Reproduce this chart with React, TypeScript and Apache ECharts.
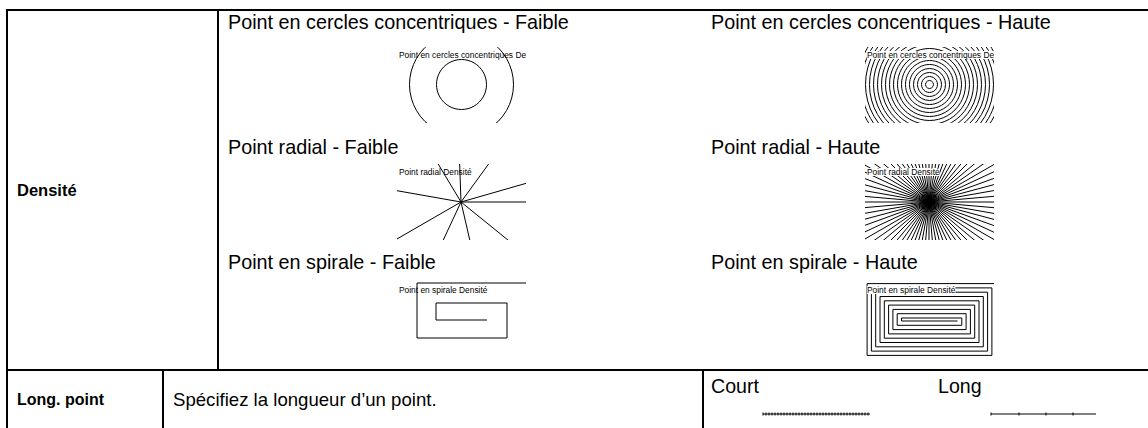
import React, { useEffect, useRef } from "react";
import * as echarts from "echarts";

// ---- texts ----
const rowLabels = ["Densité", "Long. point"];
const headingsLow = [
  "Point en cercles concentriques - Faible",
  "Point radial - Faible",
  "Point en spirale - Faible",
];
const headingsHigh = [
  "Point en cercles concentriques - Haute",
  "Point radial - Haute",
  "Point en spirale - Haute",
];
const panelCaptions = [
  "Point en cercles concentriques Densité",
  "Point radial Densité",
  "Point en spirale Densité",
];
const descText = "Spécifiez la longueur d’un point.";
const lengthLabels = ["Court", "Long"];

// ---- pattern values (pixels inside each sample) ----
const circleRadiiLow = [25, 52];
const circleRadiiHigh = [4, 8, 12, 16, 20, 24, 28, 32, 36, 40, 44, 48, 52, 56, 60, 64, 68, 72, 76, 80];
const rayAnglesLow = [0, 16, 54, 92, 121, 170, 210, 245, 283, 321];
const rayAnglesHigh = [
  0, 5, 10, 15, 20, 25, 30, 35, 40, 45, 50, 55, 60, 65, 70, 75, 80, 85, 90, 95, 100, 105, 110, 115,
  120, 125, 130, 135, 140, 145, 150, 155, 160, 165, 170, 175, 180, 185, 190, 195, 200, 205, 210, 215,
  220, 225, 230, 235, 240, 245, 250, 255, 260, 265, 270, 275, 280, 285, 290, 295, 300, 305, 310, 315,
  320, 325, 330, 335, 340, 345, 350, 355,
];
const spiralLowX = [25.5, -25.5, -25.5, 45.5, 45.5, -44.5, -44.5, 70];
const spiralLowY = [9, 9, -8, -8, 27, 27, -28, -28];
// right0, left0, top0, bottom0, step, loops
const spiralHighParams = [28, -28, -2, 1, 4.3, 10];
const courtTicks = [0, 3, 6, 9, 12, 15, 18, 21, 24, 27, 30, 33, 36, 39, 42, 45, 48, 51, 54, 57, 60, 63, 66, 69, 72, 75, 78, 81, 84, 87, 90, 93, 96, 99, 102, 105];
const longTicks = [0, 28, 55, 82];

const FONT = "'Liberation Sans', Arial, Helvetica, sans-serif";

function spiralHighPoints(): number[][] {
  const [r0, l0, t0, b0, d, loops] = spiralHighParams;
  const pts: number[][] = [[r0, b0]];
  for (let k = 0; k < loops; k++) {
    pts.push([l0 - k * d, b0 + k * d]);
    pts.push([l0 - k * d, t0 - k * d]);
    pts.push([r0 + (k + 1) * d, t0 - k * d]);
    pts.push([r0 + (k + 1) * d, b0 + (k + 1) * d]);
  }
  return pts;
}

const PW = 129;
const PH = 76;

type Panel = {
  x: number;
  y: number;
  kind: "circles" | "rays" | "spiral";
  values: number[];
  cx: number;
  cy: number;
  caption: string;
  bg: boolean;
  pts?: number[][];
};

const panels: Panel[] = [
  { x: 397, y: 47, kind: "circles", values: circleRadiiLow, cx: 64.5, cy: 37.5, caption: panelCaptions[0], bg: false },
  { x: 865, y: 47, kind: "circles", values: circleRadiiHigh, cx: 64.5, cy: 37.5, caption: panelCaptions[0], bg: true },
  { x: 397, y: 164, kind: "rays", values: rayAnglesLow, cx: 64, cy: 38, caption: panelCaptions[1], bg: false },
  { x: 865, y: 164, kind: "rays", values: rayAnglesHigh, cx: 64, cy: 38, caption: panelCaptions[1], bg: true },
  {
    x: 397, y: 282, kind: "spiral", values: [0], cx: 64.5, cy: 29, caption: panelCaptions[2], bg: false,
    pts: spiralLowX.map((v, i) => [v, spiralLowY[i]]),
  },
  { x: 865, y: 282, kind: "spiral", values: [0], cx: 64.5, cy: 38, caption: panelCaptions[2], bg: true, pts: spiralHighPoints() },
];

const samples = [
  { x: 763, y: 408, w: 107, ticks: courtTicks, len: 107 },
  { x: 991, y: 408, w: 105, ticks: longTicks, len: 105 },
];

function buildOption() {
  const grid: any[] = [];
  const xAxis: any[] = [];
  const yAxis: any[] = [];
  const series: any[] = [];

  const addGrid = (left: number, top: number, w: number, h: number) => {
    const i = grid.length;
    grid.push({ left, top, width: w, height: h, containLabel: false, show: false });
    xAxis.push({ type: "value", gridIndex: i, min: 0, max: w, show: false });
    yAxis.push({ type: "value", gridIndex: i, min: 0, max: h, inverse: true, show: false });
    return i;
  };

  panels.forEach((p) => {
    const gi = addGrid(p.x, p.y, PW, PH);
    const stroke = { stroke: "#000", lineWidth: 1, fill: "none" };
    series.push({
      type: "custom",
      coordinateSystem: "cartesian2d",
      xAxisIndex: gi,
      yAxisIndex: gi,
      clip: true,
      silent: true,
      data: p.values.map((v) => [v, 0]),
      renderItem: (params: any, api: any) => {
        const c = api.coord([p.cx, p.cy]);
        const v = api.value(0);
        if (p.kind === "circles") {
          return { type: "circle", shape: { cx: c[0], cy: c[1], r: v }, style: { ...stroke } };
        }
        if (p.kind === "rays") {
          const a = (v * Math.PI) / 180;
          return {
            type: "line",
            shape: { x1: c[0], y1: c[1], x2: c[0] + 300 * Math.cos(a), y2: c[1] - 300 * Math.sin(a) },
            style: { stroke: "#000", lineWidth: 1 },
          };
        }
        const pts = (p.pts || []).map((q) => api.coord([p.cx + q[0], p.cy + q[1]]));
        return { type: "polyline", shape: { points: pts }, style: { ...stroke } };
      },
      z: 2,
    });
    series.push({
      type: "custom",
      coordinateSystem: "cartesian2d",
      xAxisIndex: gi,
      yAxisIndex: gi,
      clip: true,
      silent: true,
      data: [[0, 0]],
      renderItem: (params: any, api: any) => {
        const c = api.coord([2, 8]);
        return {
          type: "text",
          style: {
            text: p.caption,
            x: c[0],
            y: c[1],
            font: `8.4px ${FONT}`,
            fill: "#000",
            textAlign: "left",
            textVerticalAlign: "middle",
            backgroundColor: p.bg ? "#fff" : undefined,
          },
        };
      },
      z: 3,
    });
  });

  samples.forEach((s) => {
    const gi = addGrid(s.x, s.y, s.w, 12);
    series.push({
      type: "custom",
      coordinateSystem: "cartesian2d",
      xAxisIndex: gi,
      yAxisIndex: gi,
      clip: false,
      silent: true,
      data: s.ticks.map((t) => [t, 0]),
      renderItem: (params: any, api: any) => {
        const t = api.coord([api.value(0), 6]);
        const children: any[] = [
          {
            type: "line",
            shape: { x1: t[0], y1: t[1] - 1.5, x2: t[0], y2: t[1] + 1.5 },
            style: { stroke: "#000", lineWidth: 1 },
          },
        ];
        if (params.dataIndex === 0) {
          const a = api.coord([0, 6]);
          const b = api.coord([s.len, 6]);
          children.push({
            type: "line",
            shape: { x1: a[0], y1: a[1], x2: b[0], y2: b[1] },
            style: { stroke: "#000", lineWidth: 1 },
          });
        }
        return { type: "group", children };
      },
    });
  });

  const txt = (x: number, y: number, text: string, size: number, bold = false) => ({
    type: "text",
    x,
    y,
    z: 100,
    silent: true,
    style: {
      text,
      font: `${bold ? "bold " : ""}${size}px ${FONT}`,
      fill: "#000",
      textAlign: "left",
      textVerticalAlign: "middle",
    },
  });
  const ln = (x1: number, y1: number, x2: number, y2: number) => ({
    type: "line",
    z: 100,
    silent: true,
    shape: { x1, y1, x2, y2 },
    style: { stroke: "#000", lineWidth: 2 },
  });

  const rowsY = [22, 147, 262];
  const graphic: any[] = [
    ln(6, 10, 1148, 10),
    ln(7, 9, 7, 428),
    ln(218, 10, 218, 370),
    ln(7, 370, 1148, 370),
    ln(163, 370, 163, 428),
    ln(703, 370, 703, 428),
    txt(17, 190, rowLabels[0], 16.5, true),
    txt(17, 399, rowLabels[1], 16, true),
    txt(173, 399, descText, 18.6),
    txt(711, 386, lengthLabels[0], 19.6),
    txt(938, 386, lengthLabels[1], 19.6),
  ];
  rowsY.forEach((y, i) => {
    graphic.push(txt(228, y, headingsLow[i], 19.8));
    graphic.push(txt(711, y, headingsHigh[i], 19.8));
  });

  return {
    animation: false,
    backgroundColor: "#fff",
    grid,
    xAxis,
    yAxis,
    series,
    graphic,
  };
}

export default function App() {
  const ref = useRef<HTMLDivElement>(null);
  useEffect(() => {
    document.body.style.margin = "0";
    if (!ref.current) return;
    const chart = echarts.init(ref.current, undefined, { renderer: "svg" });
    chart.setOption(buildOption());
    return () => chart.dispose();
  }, []);
  return <div ref={ref} style={{ width: 1148, height: 428 }} />;
}
